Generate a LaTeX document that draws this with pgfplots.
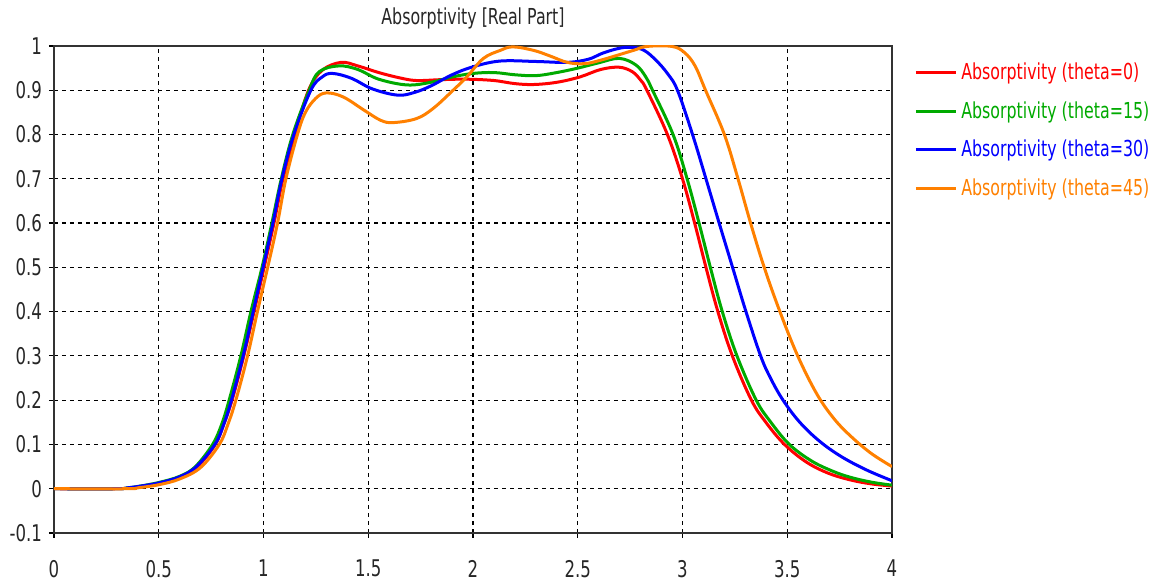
\documentclass[border=0pt]{standalone}
\usepackage{pgfplots}
\pgfplotsset{compat=1.18}
\usepackage{fontspec}
\setmainfont{DejaVu Sans}[FakeStretch=0.72]

\definecolor{absred}{RGB}{255,0,0}
\definecolor{absgreen}{RGB}{0,170,0}
\definecolor{absblue}{RGB}{0,0,255}
\definecolor{absorange}{RGB}{255,128,0}

\begin{document}
\begin{tikzpicture}
\useasboundingbox (-27pt,-24pt) rectangle (554pt,266.5pt);
\begin{axis}[
  at={(0,0)}, anchor=south west,
  scale only axis, width=419pt, height=243.5pt,
  xmin=0, xmax=4, ymin=-0.1, ymax=1,
  xtick={0,0.5,1,1.5,2,2.5,3,3.5,4},
  ytick={-0.1,0,0.1,0.2,0.3,0.4,0.5,0.6,0.7,0.8,0.9,1},
  yticklabels={-0.1,0,0.1,0.2,0.3,0.4,0.5,0.6,0.7,0.8,0.9,1},
  xticklabels={0,0.5,1,1.5,2,2.5,3,3.5,4},
  xtick pos=left, ytick pos=left, tick align=outside,
  major tick length=2.5pt,
  tick style={black, line width=0.6pt},
  axis line style={black!80, line width=1pt},
  grid=major,
  major grid style={black, line width=0.6pt, dash pattern=on 2pt off 2pt},
  tick label style={font=\fontsize{11.5}{13}\selectfont, black!85},
  xticklabel style={yshift=-7.5pt},
  title={Absorptivity [Real Part]},
  title style={font=\fontsize{11}{13}\selectfont, black!85, at={(0.5,1)}, anchor=south, yshift=-1pt},
  legend style={draw=none, fill=none, at={(1.019,0.983)}, anchor=north west,
    font=\fontsize{11}{13}\selectfont, row sep=5.5pt},
  legend cell align=left,
  legend image code/.code={\draw[#1, line width=1.5pt] (0pt,0pt) -- (20pt,0pt);},
  every axis plot/.append style={line width=1.5pt, smooth, tension=0.6},
]
% theta = 0
\addplot[absred] coordinates {
(0,0) (0.3,0) (0.4,0.004) (0.5,0.012) (0.6,0.026) (0.685,0.05) (0.77,0.1) (0.81,0.145)
(0.85,0.2) (0.906,0.3) (0.955,0.4) (1.003,0.5) (1.05,0.6) (1.093,0.7) (1.15,0.8)
(1.215,0.9) (1.28,0.945) (1.37,0.963) (1.45,0.955) (1.55,0.94) (1.65,0.928) (1.73,0.922)
(1.85,0.924) (1.97,0.925) (2.1,0.922) (2.2,0.915) (2.29,0.913) (2.4,0.918) (2.51,0.93)
(2.61,0.947) (2.698,0.952) (2.76,0.942) (2.80,0.923) (2.83,0.9) (2.928,0.8) (3.0,0.7)
(3.058,0.6) (3.112,0.5) (3.169,0.4) (3.238,0.3) (3.329,0.2) (3.398,0.15) (3.487,0.1)
(3.592,0.06) (3.696,0.035) (3.8,0.02) (3.9,0.011) (4.0,0.006)
};
\addlegendentry{\textcolor{absred}{Absorptivity (theta=0)}}
% theta = 15
\addplot[absgreen] coordinates {
(0,0) (0.3,0) (0.35,0.002) (0.4,0.005) (0.5,0.014) (0.6,0.028) (0.675,0.05) (0.757,0.1)
(0.8,0.145) (0.836,0.2) (0.892,0.3) (0.94,0.4) (0.993,0.5) (1.04,0.6) (1.085,0.7)
(1.14,0.8) (1.218,0.9) (1.266,0.942) (1.36,0.955) (1.45,0.947) (1.55,0.925) (1.685,0.912)
(1.8,0.918) (1.9,0.93) (2.0,0.938) (2.1,0.94) (2.2,0.935) (2.3,0.933) (2.4,0.94) (2.5,0.95)
(2.6,0.962) (2.698,0.972) (2.778,0.957) (2.825,0.93) (2.857,0.9) (2.955,0.8) (3.022,0.7)
(3.079,0.6) (3.133,0.5) (3.19,0.4) (3.26,0.3) (3.352,0.2) (3.422,0.15) (3.51,0.1)
(3.615,0.063) (3.715,0.04) (3.8,0.026) (3.9,0.015) (4.0,0.008)
};
\addlegendentry{\textcolor{absgreen}{Absorptivity (theta=15)}}
% theta = 30
\addplot[absblue] coordinates {
(0,0) (0.3,0) (0.35,0.002) (0.4,0.005) (0.5,0.013) (0.6,0.027) (0.68,0.05) (0.768,0.1)
(0.81,0.145) (0.847,0.2) (0.903,0.3) (0.951,0.4) (0.998,0.5) (1.045,0.6) (1.088,0.7)
(1.145,0.8) (1.226,0.9) (1.28,0.93) (1.33,0.938) (1.42,0.927) (1.52,0.903) (1.64,0.889)
(1.72,0.895) (1.8,0.91) (1.9,0.935) (2.0,0.953) (2.13,0.966) (2.3,0.965) (2.45,0.963)
(2.55,0.97) (2.62,0.984) (2.7,0.995) (2.76,0.997) (2.817,0.99) (2.873,0.968) (2.928,0.938)
(2.976,0.9) (3.048,0.8) (3.112,0.7) (3.175,0.6) (3.239,0.5) (3.303,0.4) (3.373,0.3)
(3.42,0.25) (3.48,0.2) (3.56,0.15) (3.655,0.107) (3.76,0.072) (3.88,0.042) (4.0,0.018)
};
\addlegendentry{\textcolor{absblue}{Absorptivity (theta=30)}}
% theta = 45
\addplot[absorange] coordinates {
(0,0) (0.35,0) (0.4,0.002) (0.5,0.009) (0.6,0.022) (0.7,0.048) (0.789,0.1) (0.83,0.145)
(0.868,0.2) (0.924,0.3) (0.971,0.4) (1.02,0.5) (1.067,0.6) (1.107,0.7) (1.162,0.8)
(1.2,0.85) (1.25,0.882) (1.30,0.894) (1.38,0.885) (1.48,0.855) (1.56,0.832) (1.62,0.827)
(1.73,0.836) (1.81,0.859) (1.905,0.9) (1.97,0.93) (2.05,0.972) (2.13,0.99) (2.19,0.998)
(2.29,0.99) (2.37,0.977) (2.45,0.963) (2.53,0.96) (2.61,0.968) (2.765,0.99) (2.83,0.999)
(2.95,0.999) (3.01,0.985) (3.06,0.955) (3.11,0.9) (3.2,0.8) (3.265,0.7) (3.325,0.6)
(3.39,0.5) (3.465,0.4) (3.55,0.3) (3.64,0.215) (3.72,0.16) (3.8,0.12) (3.9,0.08) (4.0,0.05)
};
\addlegendentry{\textcolor{absorange}{Absorptivity (theta=45)}}
\end{axis}
\end{tikzpicture}
\end{document}
